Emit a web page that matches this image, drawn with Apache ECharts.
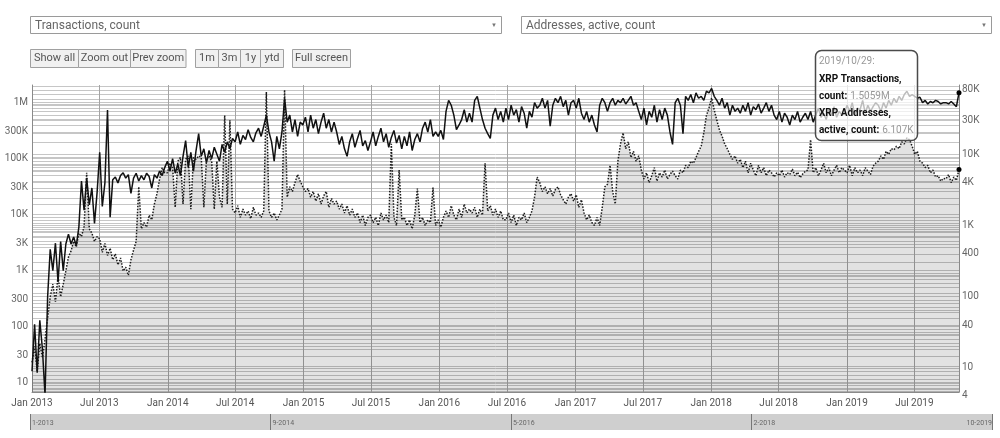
<!DOCTYPE html>
<html>
<head>
<meta charset="utf-8">
<title>XRP transactions and active addresses</title>
<script src="https://cdn.jsdelivr.net/npm/echarts@6/dist/echarts.min.js"></script>
<style>
  html, body { margin: 0; padding: 0; background: #fff; }
  #chart { width: 1000px; height: 438px; }
</style>
</head>
<body>
<div id="chart"></div>
<script>
// weekly samples starting 2013-01-01, last one 2019-10-29
var startDate = Date.UTC(2013, 0, 1);
var stepDays = 7;
var dayMs = 86400000;

// XRP transactions, count (left axis)
var txCount = [
  16, 110, 15, 130, 40, 6, 340, 2400, 1000, 3100, 630, 3300, 1000,
  3000, 4500, 3000, 4000, 2800, 6000, 40000, 12000, 45000, 15000, 30000, 7000, 25000,
  130000, 14000, 37000, 740000, 9000, 42000, 47000, 37000, 50000, 56000, 45000, 52000, 24000,
  45000, 55000, 40000, 50000, 42000, 55000, 48000, 30000, 52000, 45000, 60000, 50000, 70000,
  90000, 60000, 100000, 55000, 80000, 50000, 110000, 210000, 70000, 130000, 60000, 140000, 280000,
  110000, 150000, 85000, 140000, 100000, 160000, 120000, 90000, 180000, 130000, 200000, 150000, 230000,
  200000, 300000, 180000, 260000, 220000, 330000, 240000, 200000, 290000, 350000, 250000, 380000, 600000,
  300000, 200000, 90000, 250000, 150000, 300000, 1200000, 450000, 600000, 300000, 500000, 250000, 450000,
  400000, 550000, 300000, 600000, 350000, 500000, 280000, 450000, 650000, 350000, 500000, 300000, 450000,
  300000, 180000, 250000, 150000, 110000, 200000, 280000, 160000, 230000, 320000, 170000, 210000, 140000,
  200000, 300000, 170000, 250000, 350000, 200000, 280000, 160000, 240000, 320000, 190000, 260000, 150000,
  250000, 170000, 300000, 140000, 220000, 280000, 200000, 350000, 450000, 300000, 500000, 250000, 300000,
  250000, 320000, 220000, 700000, 1100000, 900000, 600000, 330000, 400000, 500000, 750000, 450000, 650000,
  450000, 1100000, 1300000, 800000, 500000, 350000, 280000, 230000, 600000, 800000, 500000, 700000, 450000,
  800000, 500000, 900000, 600000, 750000, 450000, 850000, 650000, 350000, 700000, 550000, 1000000, 800000,
  900000, 1200000, 800000, 1100000, 380000, 900000, 1200000, 1000000, 1300000, 850000, 1100000, 600000, 1000000,
  1100000, 800000, 1200000, 650000, 500000, 700000, 450000, 600000, 400000, 300000, 900000, 1200000, 1000000,
  700000, 1000000, 1200000, 900000, 1100000, 1000000, 1200000, 950000, 1100000, 1300000, 900000, 1000000, 700000,
  500000, 800000, 400000, 700000, 550000, 900000, 450000, 750000, 500000, 800000, 600000, 300000, 180000,
  1000000, 1200000, 900000, 280000, 1300000, 1100000, 1400000, 1000000, 1500000, 1200000, 1300000, 1100000, 1600000,
  1500000, 1800000, 1300000, 1100000, 900000, 1200000, 800000, 1000000, 600000, 900000, 700000, 800000, 650000,
  900000, 700000, 1000000, 600000, 850000, 750000, 950000, 650000, 800000, 1000000, 700000, 900000, 600000,
  500000, 700000, 450000, 650000, 550000, 400000, 600000, 500000, 700000, 450000, 550000, 650000, 500000,
  700000, 450000, 600000, 800000, 550000, 650000, 500000, 750000, 600000, 850000, 550000, 700000, 600000,
  650000, 900000, 700000, 1000000, 600000, 800000, 750000, 1100000, 650000, 900000, 700000, 850000, 1000000,
  900000, 700000, 1000000, 800000, 1100000, 900000, 1200000, 1000000, 1300000, 1100000, 1400000, 1600000, 1300000,
  1400000, 1300000, 1200000, 1250000, 1000000, 1100000, 950000, 1050000, 1000000, 1100000, 1050000, 950000, 1000000,
  1000000, 950000, 1050000, 950000, 850000, 1505900
];

// XRP addresses, active, count (right axis)
var activeAddresses = [
  12, 20, 9, 22, 14, 25, 50, 100, 150, 85, 195, 100, 150,
  230, 360, 440, 600, 500, 780, 700, 970, 5500, 900, 780, 600, 700,
  650, 420, 560, 380, 480, 330, 400, 280, 350, 230, 260, 200, 330,
  450, 600, 3500, 900, 1100, 950, 1400, 1200, 2000, 2800, 4500, 6500, 5500,
  5500, 7500, 6500, 1800, 8000, 9000, 2000, 8500, 9500, 1700, 9000, 8500, 9500,
  9000, 1800, 8500, 9500, 8000, 1700, 8000, 2500, 1800, 35000, 2000, 30000, 1700,
  1500, 1900, 1300, 1700, 1400, 1600, 1250, 1800, 1400, 1500, 1300, 1600, 75000,
  1600, 1300, 1500, 1200, 1400, 1700, 80000, 2500, 3500, 3000, 4000, 5200, 4200,
  3500, 3000, 3300, 2500, 3000, 2200, 2800, 2000, 2600, 3000, 1800, 2400, 2000,
  2200, 1700, 2000, 1500, 1900, 1400, 1700, 1300, 1500, 1100, 1400, 1000, 1300,
  1400, 1100, 1300, 1000, 1500, 1200, 1400, 1100, 14000, 1300, 1000, 6000, 1200,
  1300, 1000, 1200, 900, 1400, 3300, 1100, 1300, 1000, 1200, 1100, 3400, 1000,
  1200, 950, 1300, 1600, 1300, 1900, 1400, 1200, 1700, 1300, 2000, 1500, 1700,
  1500, 1800, 1300, 1700, 1400, 7500, 1600, 1900, 1400, 1700, 1300, 1600, 1200,
  1200, 1500, 1100, 1400, 1000, 1300, 1200, 1500, 1100, 1300, 1600, 2500, 4800,
  4000, 3000, 3500, 2800, 3300, 2600, 3200, 3500, 2700, 2300, 2000, 2500, 2800,
  2200, 2700, 1800, 2300, 1500, 1200, 1400, 1100, 1000, 1300, 1000, 1800, 3500,
  3800, 7000, 3000, 2000, 8000, 14000, 20000, 12000, 15000, 9000, 11000, 8000, 9500,
  6000, 4500, 5500, 4000, 5000, 6500, 4200, 5500, 4800, 6000, 4500, 5200, 5800,
  5000, 4500, 6000, 5500, 7000, 6500, 8000, 7500, 9000, 11000, 13000, 20000, 35000,
  45000, 62000, 42000, 30000, 22000, 18000, 14000, 12000, 10000, 8500, 9500, 7500, 8500,
  6500, 8000, 5500, 7500, 6000, 5000, 7000, 5500, 6500, 5000, 6000, 5500, 4800,
  5500, 5000, 6000, 4800, 5500, 5200, 6200, 5000, 5600, 4700, 5300, 5800, 6000,
  16000, 5500, 6500, 5000, 6000, 7500, 5500, 6500, 5000, 6000, 7000, 5500, 6500,
  6000, 5500, 7000, 5000, 6500, 5500, 6000, 5000, 6500, 5800, 5200, 6800, 7500,
  8000, 9500, 8500, 11000, 10000, 12000, 11500, 13000, 12000, 15000, 14000, 17000, 16000,
  13000, 10000, 11000, 8000, 7500, 6500, 7000, 5500, 6000, 4800, 5000, 4200, 4600,
  4500, 5200, 4000, 4800, 4300, 6107
];

var leftTicks = [10, 30, 100, 300, 1e3, 3e3, 1e4, 3e4, 1e5, 3e5, 1e6];
var rightTicks = [4.6, 10, 40, 100, 400, 1e3, 4e3, 1e4, 3e4, 8e4];
var rightTickLabels = ['4', '10', '40', '100', '400', '1K', '4K', '10K', '30K', '80K'];
var monthNames = ['Jan', 'Feb', 'Mar', 'Apr', 'May', 'Jun', 'Jul', 'Aug', 'Sep', 'Oct', 'Nov', 'Dec'];

var leftRange = [6.82, 2.07e6];
var rightRange = [4.59, 94000];

var dates = txCount.map(function (v, i) { return startDate + i * stepDays * dayMs; });
var endDate = dates[dates.length - 1];
var txData = dates.map(function (d, i) { return [d, txCount[i]]; });
var addrData = dates.map(function (d, i) { return [d, activeAddresses[i]]; });
var lastTx = txCount[txCount.length - 1];
var lastAddr = activeAddresses[activeAddresses.length - 1];

// half-year ticks for the main x axis
var halfYears = [];
for (var y = 2013; y <= 2019; y++) {
  halfYears.push(Date.UTC(y, 0, 1), Date.UTC(y, 6, 1));
}
// quarter marks of the range for the navigator bar
var navMarks = [0, 1, 2, 3, 4].map(function (k) { return startDate + (endDate - startDate) * k / 4; });

// log grid lines, 1..9 per decade
function logGrid(lo, hi) {
  var out = [];
  for (var p = 0; p <= 7; p++) {
    for (var k = 1; k <= 9; k++) {
      var v = k * Math.pow(10, p);
      if (v >= lo && v <= hi) out.push(v);
    }
  }
  return out;
}

function shortNum(v) {
  if (v >= 1e6) return Math.round(v / 1e5) / 10 + 'M';
  if (v >= 1e3) return Math.round(v / 100) / 10 + 'K';
  return String(Math.round(v));
}

var font = 'Roboto';
var d = new Date(endDate);
var tipDate = d.getUTCFullYear() + '/' + (d.getUTCMonth() + 1) + '/' + d.getUTCDate() + ':';

var chart = echarts.init(document.getElementById('chart'));

var buttons = [
  { text: 'Show all', x: 30.5, w: 48 },
  { text: 'Zoom out', x: 78.5, w: 52 },
  { text: 'Prev zoom', x: 130.5, w: 55.5 },
  { text: '1m', x: 195.5, w: 23 },
  { text: '3m', x: 218.5, w: 22 },
  { text: '1y', x: 240.5, w: 20 },
  { text: 'ytd', x: 260.5, w: 23 },
  { text: 'Full screen', x: 292.5, w: 58 }
];

var graphics = [
  { type: 'rect', shape: { x: 30.5, y: 16.5, width: 471, height: 17 }, style: { fill: '#fff', stroke: '#9a9a9a', lineWidth: 1 } },
  { type: 'text', x: 35, y: 25.5, style: { text: 'Transactions, count', fill: '#666', fontSize: 12, fontFamily: font, verticalAlign: 'middle' } },
  { type: 'text', x: 494, y: 25, style: { text: '\u25BC', fill: '#777', fontSize: 6, fontFamily: font, align: 'center', verticalAlign: 'middle' } },
  { type: 'rect', shape: { x: 521.5, y: 16.5, width: 470, height: 17 }, style: { fill: '#fff', stroke: '#9a9a9a', lineWidth: 1 } },
  { type: 'text', x: 526, y: 25.5, style: { text: 'Addresses, active, count', fill: '#666', fontSize: 12, fontFamily: font, verticalAlign: 'middle' } },
  { type: 'text', x: 984, y: 25, style: { text: '\u25BC', fill: '#777', fontSize: 6, fontFamily: font, align: 'center', verticalAlign: 'middle' } }
];

buttons.forEach(function (b) {
  graphics.push({ type: 'rect', shape: { x: b.x, y: 49.5, width: b.w, height: 18 }, style: { fill: '#f1f1f1', stroke: '#a0a0a0', lineWidth: 1 } });
  graphics.push({ type: 'text', x: b.x + b.w / 2, y: 58.5, style: { text: b.text, fill: '#555', fontSize: 11, fontFamily: font, align: 'center', verticalAlign: 'middle' } });
});

// hover box for the last date
graphics.push({
  type: 'group', z: 100, children: [
    { type: 'rect', z: 100, shape: { x: 815.5, y: 50.5, width: 102, height: 90, r: 6 }, style: { fill: 'rgba(255,255,255,0.72)', stroke: '#4a4a4a', lineWidth: 1.5 } },
    { type: 'text', z: 101, x: 819, y: 61, style: { text: tipDate, fill: '#999', fontSize: 10, fontFamily: font, verticalAlign: 'middle' } },
    { type: 'text', z: 101, x: 819, y: 79, style: { text: 'XRP Transactions,', fill: '#111', fontSize: 10, fontWeight: 'bold', fontFamily: font, verticalAlign: 'middle' } },
    { type: 'text', z: 101, x: 819, y: 96, style: {
        text: '{b|count:} {v|' + (lastTx / 1e6).toFixed(4) + 'M}', fontFamily: font, verticalAlign: 'middle',
        rich: { b: { fill: '#111', fontSize: 10, fontWeight: 'bold', fontFamily: font }, v: { fill: '#999', fontSize: 10, fontFamily: font } } } },
    { type: 'text', z: 101, x: 819, y: 113, style: { text: 'XRP Addresses,', fill: '#111', fontSize: 10, fontWeight: 'bold', fontFamily: font, verticalAlign: 'middle' } },
    { type: 'text', z: 101, x: 819, y: 130, style: {
        text: '{b|active, count:} {v|' + (lastAddr / 1e3).toFixed(3) + 'K}', fontFamily: font, verticalAlign: 'middle',
        rich: { b: { fill: '#111', fontSize: 10, fontWeight: 'bold', fontFamily: font }, v: { fill: '#999', fontSize: 10, fontFamily: font } } } }
  ]
});

var option = {
  animation: false,
  backgroundColor: '#fff',
  textStyle: { fontFamily: font },
  grid: [
    { left: 32, right: 41, top: 85, height: 307 },
    { left: 30, right: 8, top: 414, height: 16, show: true, backgroundColor: '#cfcfcf', borderWidth: 0 }
  ],
  xAxis: [
    {
      type: 'value', gridIndex: 0, min: startDate, max: endDate,
      axisLine: { lineStyle: { color: '#8a8a8a' } },
      axisTick: { show: false, customValues: halfYears },
      axisLabel: {
        customValues: halfYears, color: '#555', fontSize: 10, margin: 6,
        formatter: function (v) { var t = new Date(v); return monthNames[t.getUTCMonth()] + ' ' + t.getUTCFullYear(); }
      },
      splitLine: { show: true, lineStyle: { color: '#a4a4a4', width: 1 } }
    },
    {
      type: 'value', gridIndex: 1, min: startDate, max: endDate,
      axisLine: { show: false },
      axisTick: { show: true, inside: true, length: 16, customValues: navMarks, lineStyle: { color: '#777' } },
      axisLabel: {
        customValues: navMarks, inside: true, margin: 3, fontSize: 7, color: '#666', align: 'left',
        padding: [0, 0, 0, 2], alignMaxLabel: 'right',
        formatter: function (v) { var t = new Date(v); return (t.getUTCMonth() + 1) + '-' + t.getUTCFullYear(); }
      },
      splitLine: { show: false }
    }
  ],
  yAxis: [
    {
      type: 'log', gridIndex: 0, position: 'left', min: leftRange[0], max: leftRange[1],
      axisLine: { show: true, lineStyle: { color: '#8a8a8a' } },
      axisTick: { show: false, customValues: logGrid(leftRange[0], leftRange[1]) },
      axisLabel: { customValues: leftTicks, color: '#666', fontSize: 10, margin: 4, formatter: shortNum },
      splitLine: { show: true, lineStyle: { color: '#c6c6c6', width: 1 } }
    },
    {
      type: 'log', gridIndex: 0, position: 'right', min: rightRange[0], max: rightRange[1],
      axisLine: { show: true, lineStyle: { color: '#8a8a8a' } },
      axisTick: { show: false, customValues: logGrid(rightRange[0], rightRange[1]) },
      axisLabel: {
        customValues: rightTicks, color: '#666', fontSize: 10, margin: 3,
        formatter: function (v) {
          var best = 0;
          rightTicks.forEach(function (t, i) { if (Math.abs(Math.log(t) - Math.log(v)) < Math.abs(Math.log(rightTicks[best]) - Math.log(v))) best = i; });
          return best === 0 ? '{low|' + rightTickLabels[0] + '}' : rightTickLabels[best];
        },
        rich: { low: { padding: [8, 0, 0, 0], fontSize: 10, color: '#666' } }
      },
      splitLine: { show: true, lineStyle: { color: '#c6c6c6', width: 1 } }
    },
    { type: 'value', gridIndex: 1, show: false, min: 0, max: 1 }
  ],
  series: [
    {
      name: 'XRP Addresses, active, count', type: 'line', xAxisIndex: 0, yAxisIndex: 1,
      data: addrData, symbol: 'none', showSymbol: false,
      lineStyle: { color: '#1a1a1a', width: 1.5, type: 'dotted' },
      areaStyle: { color: 'rgba(0,0,0,0.16)', origin: 'start' },
      markPoint: {
        symbol: 'circle', symbolSize: 5, itemStyle: { color: '#000' }, label: { show: false },
        data: [{ coord: [endDate, lastAddr] }]
      }
    },
    {
      name: 'XRP Transactions, count', type: 'line', xAxisIndex: 0, yAxisIndex: 0,
      data: txData, symbol: 'none', showSymbol: false,
      lineStyle: { color: '#111', width: 1.5 },
      markPoint: {
        symbol: 'circle', symbolSize: 5, itemStyle: { color: '#000' }, label: { show: false },
        data: [{ coord: [endDate, lastTx] }]
      }
    }
  ],
  graphic: graphics
};

chart.setOption(option);
</script>
</body>
</html>
